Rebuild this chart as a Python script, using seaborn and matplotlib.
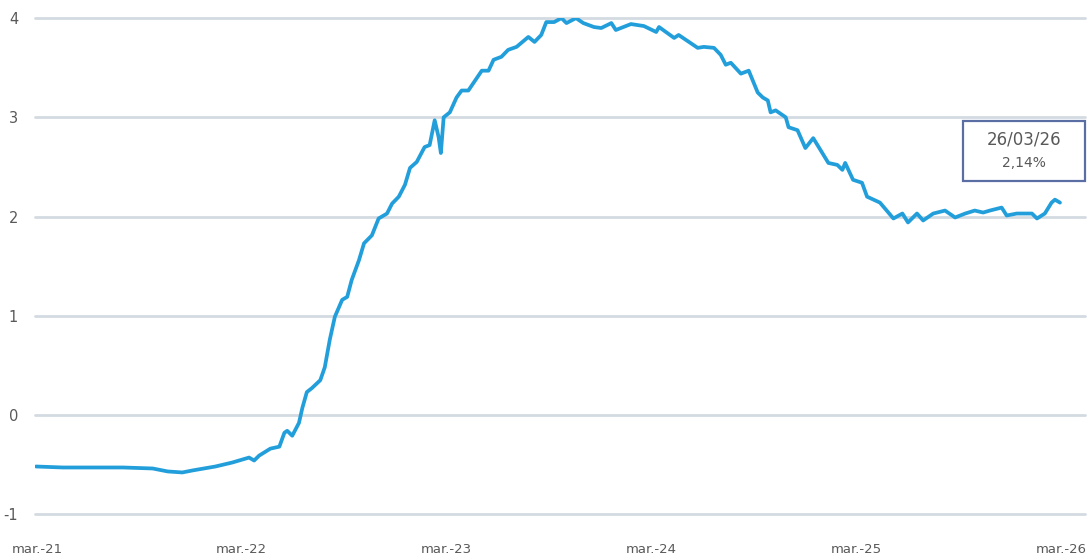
import pandas as pd
import matplotlib.pyplot as plt
from matplotlib.patches import Rectangle
import seaborn as sns

# Datos
fechas = [
    '2021-03-26', '2021-05-13', '2021-07-05', '2021-08-28', '2021-10-20', '2021-11-16',
    '2021-12-12', '2021-12-30', '2022-02-09', '2022-03-11', '2022-04-10', '2022-04-19',
    '2022-04-28', '2022-05-18', '2022-06-03', '2022-06-12', '2022-06-17', '2022-06-26',
    '2022-07-08', '2022-07-14', '2022-07-22', '2022-07-31', '2022-08-15', '2022-08-23',
    '2022-09-01', '2022-09-10', '2022-09-23', '2022-10-02', '2022-10-10', '2022-10-23',
    '2022-11-01', '2022-11-15', '2022-11-27', '2022-12-12', '2022-12-21', '2023-01-02',
    '2023-01-13', '2023-01-22', '2023-02-03', '2023-02-17', '2023-02-26', '2023-03-07',
    '2023-03-14', '2023-03-18', '2023-03-23', '2023-04-03', '2023-04-15', '2023-04-24',
    '2023-05-06', '2023-05-30', '2023-06-11', '2023-06-20', '2023-07-04', '2023-07-16',
    '2023-07-31', '2023-08-21', '2023-09-01', '2023-09-13', '2023-09-22', '2023-10-06',
    '2023-10-19', '2023-10-28', '2023-11-14', '2023-11-27', '2023-12-16', '2023-12-29',
    '2024-01-16', '2024-01-24', '2024-02-20', '2024-03-14', '2024-04-05', '2024-04-10',
    '2024-05-07', '2024-05-15', '2024-06-18', '2024-06-29', '2024-07-17', '2024-07-29',
    '2024-08-07', '2024-08-16', '2024-09-03', '2024-09-17', '2024-10-03', '2024-10-12',
    '2024-10-21', '2024-10-26', '2024-11-04', '2024-11-22', '2024-11-27', '2024-12-13',
    '2024-12-27', '2025-01-10', '2025-01-23', '2025-02-06', '2025-02-22', '2025-03-03',
    '2025-03-08', '2025-03-22', '2025-04-07', '2025-04-16', '2025-05-09', '2025-06-02',
    '2025-06-18', '2025-06-28', '2025-07-14', '2025-07-25', '2025-08-12', '2025-09-02',
    '2025-09-20', '2025-10-08', '2025-10-25', '2025-11-09', '2025-11-21', '2025-12-12',
    '2025-12-21', '2026-01-08', '2026-02-04', '2026-02-13', '2026-02-27', '2026-03-11',
    '2026-03-17', '2026-03-26',
]
valores = [
    -0.52, -0.53, -0.53, -0.53, -0.54, -0.57,
    -0.58, -0.56, -0.52, -0.48, -0.43, -0.46,
    -0.41, -0.34, -0.32, -0.18, -0.16, -0.21,
    -0.08, 0.07, 0.23, 0.27, 0.35, 0.48,
    0.76, 0.99, 1.16, 1.19, 1.36, 1.56,
    1.73, 1.81, 1.98, 2.03, 2.13, 2.20,
    2.32, 2.49, 2.55, 2.70, 2.72, 2.97,
    2.80, 2.64, 3.00, 3.05, 3.20, 3.27,
    3.27, 3.47, 3.47, 3.58, 3.61, 3.68,
    3.71, 3.81, 3.76, 3.83, 3.96, 3.96,
    4.00, 3.95, 4.00, 3.95, 3.91, 3.90,
    3.95, 3.88, 3.94, 3.92, 3.86, 3.91,
    3.80, 3.83, 3.70, 3.71, 3.70, 3.63,
    3.53, 3.55, 3.44, 3.47, 3.25, 3.20,
    3.17, 3.05, 3.07, 3.00, 2.90, 2.87,
    2.69, 2.79, 2.67, 2.54, 2.52, 2.47,
    2.54, 2.37, 2.34, 2.20, 2.14, 1.98,
    2.03, 1.94, 2.03, 1.96, 2.03, 2.06,
    1.99, 2.03, 2.06, 2.04, 2.06, 2.09,
    2.01, 2.03, 2.03, 1.98, 2.03, 2.14,
    2.17, 2.14,
]
ticks_x = ['2021-03-28', '2022-03-28', '2023-03-28', '2024-03-28', '2025-03-28', '2026-03-28']
etiquetas_x = ['mar.-21', 'mar.-22', 'mar.-23', 'mar.-24', 'mar.-25', 'mar.-26']
ticks_y = [-1, 0, 1, 2, 3, 4]
fecha_final = '26/03/26'
valor_final = '2,14%'

df = pd.DataFrame({'fecha': pd.to_datetime(fechas), 'valor': valores})

sns.set_style('white')
plt.rcParams['font.family'] = ['DejaVu Sans']
plt.rcParams['axes.unicode_minus'] = False

fig = plt.figure(figsize=(10.89, 5.57), dpi=100)
ax = fig.add_axes([0.032, 0.077, 0.964, 0.8905])

# Lineas de referencia horizontales
for t in ticks_y:
    ax.axhline(t, color='#d3dae1', linewidth=2, zorder=1, clip_on=False)

sns.lineplot(data=df, x='fecha', y='valor', ax=ax, color='#229fdb',
             linewidth=2.7, zorder=3)

ax.set_xlim(pd.Timestamp('2021-03-24'), pd.Timestamp('2026-05-09'))
ax.set_ylim(-1, 4)
ax.set_yticks(ticks_y)
ax.set_yticklabels([str(t) for t in ticks_y], color='#595959', fontsize=10.5)
ax.set_xticks(pd.to_datetime(ticks_x))
ax.set_xticklabels(etiquetas_x, color='#595959', fontsize=9.5,
                   family=['Liberation Sans Narrow', 'DejaVu Sans'])
ax.tick_params(axis='both', length=0)
ax.tick_params(axis='y', pad=12)
ax.tick_params(axis='x', pad=21)
ax.set_xlabel('')
ax.set_ylabel('')
for s in ax.spines.values():
    s.set_visible(False)

# Recuadro con el ultimo dato
ax.add_patch(Rectangle((0.884, 0.671), 0.116, 0.121, transform=ax.transAxes,
                       fill=False, edgecolor='#5a6ea4', linewidth=1.6,
                       zorder=5, clip_on=False))
ax.text(0.942, 0.756, fecha_final, transform=ax.transAxes, ha='center',
        va='center', fontsize=12, color='#595959')
ax.text(0.942, 0.708, valor_final, transform=ax.transAxes, ha='center',
        va='center', fontsize=10, color='#595959')

fig.savefig('out.png', dpi=100)
